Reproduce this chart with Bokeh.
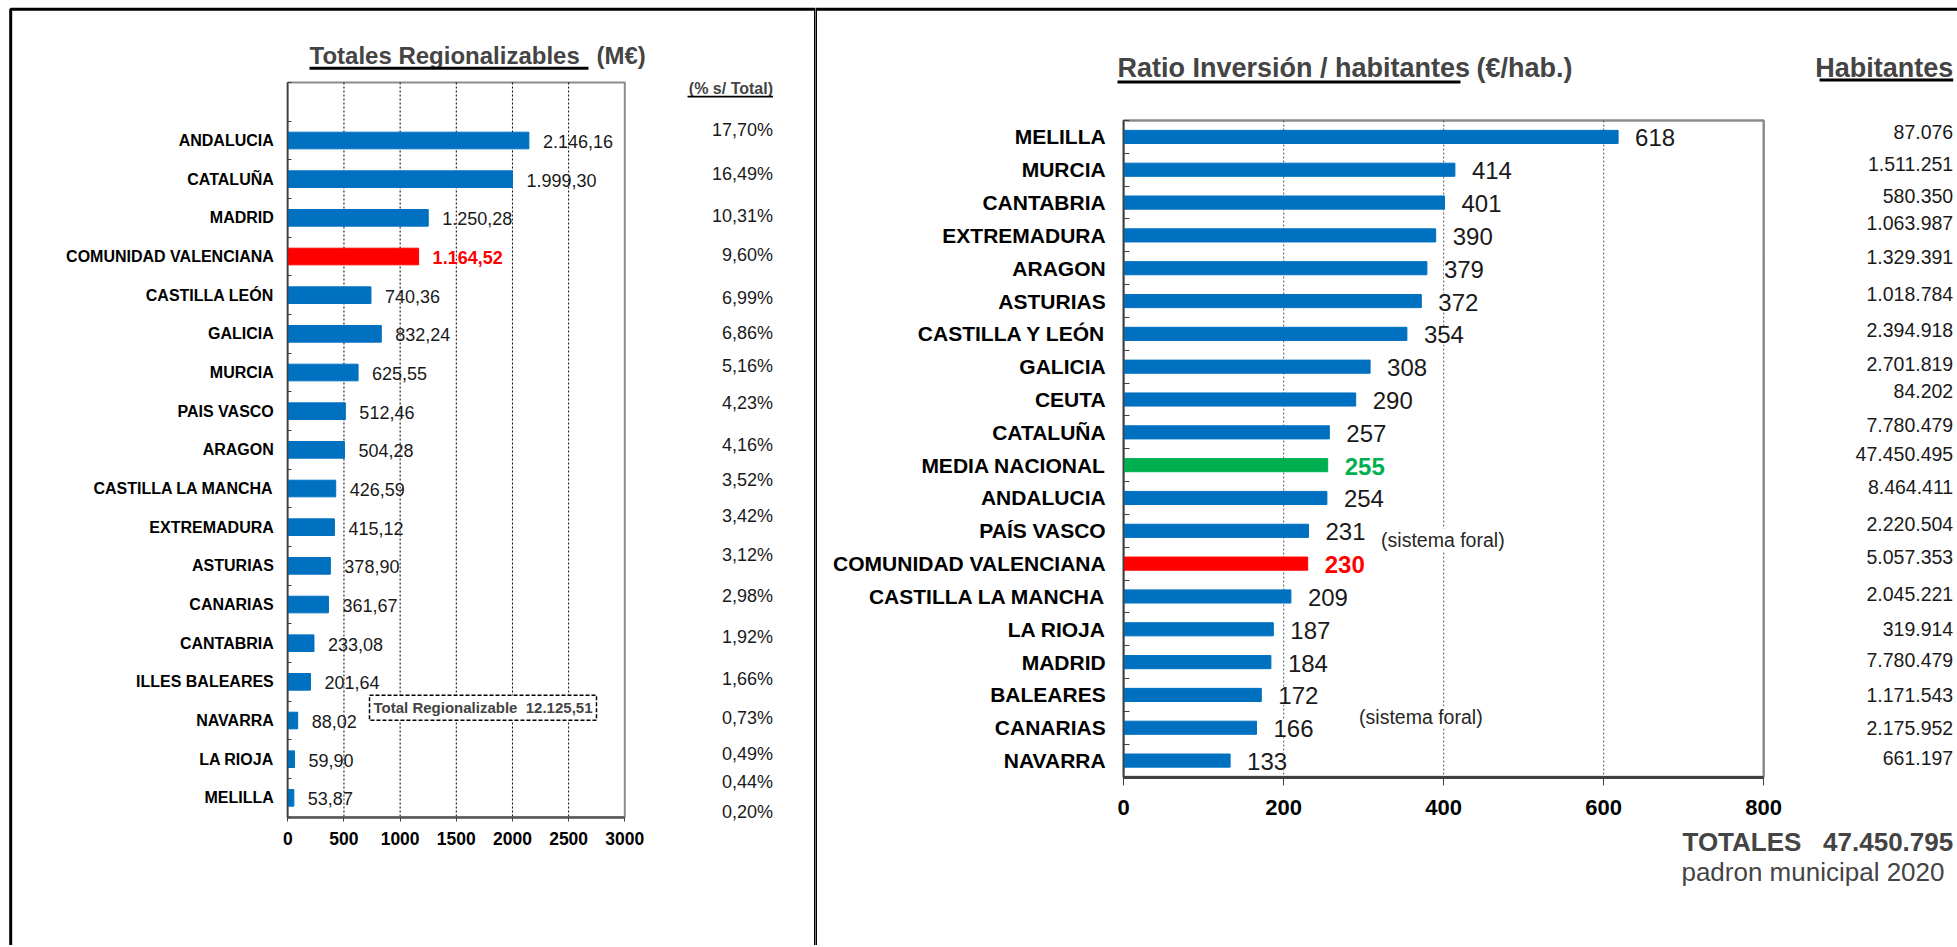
from bokeh.plotting import figure
from bokeh.models import (Range1d, FixedTicker, LabelSet, Label, BoxAnnotation,
                          ColumnDataSource)
from bokeh.layouts import row
from bokeh.embed import file_html
from bokeh.resources import INLINE
from bokeh.core.properties import value

# ------------------------------------------------------------------ data
left_regions = ["ANDALUCIA", "CATALUÑA", "MADRID", "COMUNIDAD VALENCIANA",
                "CASTILLA LEÓN", "GALICIA", "MURCIA", "PAIS VASCO", "ARAGON",
                "CASTILLA LA MANCHA", "EXTREMADURA", "ASTURIAS", "CANARIAS",
                "CANTABRIA", "ILLES BALEARES", "NAVARRA", "LA RIOJA", "MELILLA"]
left_values = [2146.16, 1999.30, 1250.28, 1164.52, 740.36, 832.24, 625.55,
               512.46, 504.28, 426.59, 415.12, 378.90, 361.67, 233.08, 201.64,
               88.02, 59.90, 53.87]
pct_values = [17.70, 16.49, 10.31, 9.60, 6.99, 6.86, 5.16, 4.23, 4.16, 3.52,
              3.42, 3.12, 2.98, 1.92, 1.66, 0.73, 0.49, 0.44, 0.20]
left_total = 12125.51
left_ticks = [0, 500, 1000, 1500, 2000, 2500, 3000]

right_regions = ["MELILLA", "MURCIA", "CANTABRIA", "EXTREMADURA", "ARAGON",
                 "ASTURIAS", "CASTILLA Y LEÓN", "GALICIA", "CEUTA", "CATALUÑA",
                 "MEDIA NACIONAL", "ANDALUCIA", "PAÍS VASCO",
                 "COMUNIDAD VALENCIANA", "CASTILLA LA MANCHA", "LA RIOJA",
                 "MADRID", "BALEARES", "CANARIAS", "NAVARRA"]
ratio_values = [618, 414, 401, 390, 379, 372, 354, 308, 290, 257, 255, 254,
                231, 230, 209, 187, 184, 172, 166, 133]
habitantes = [87076, 1511251, 580350, 1063987, 1329391, 1018784, 2394918,
              2701819, 84202, 7780479, 47450495, 8464411, 2220504, 5057353,
              2045221, 319914, 7780479, 1171543, 2175952, 661197]
hab_total = 47450795
right_ticks = [0, 200, 400, 600, 800]

# layout: row positions (in row units) of the side text columns
pct_rows = [0.74, 1.86, 2.94, 3.95, 5.08, 5.98, 6.84, 7.79, 8.87, 9.79, 10.72,
            11.71, 12.77, 13.83, 14.92, 15.94, 16.86, 17.58, 18.37]
hab_rows = [-0.14, 0.82, 1.79, 2.63, 3.67, 4.78, 5.88, 6.92, 7.75, 8.77, 9.66,
            10.68, 11.78, 12.79, 13.93, 15.0, 15.93, 17.0, 18.02, 18.91]


def es_num(v, dec=2):
    s = f"{v:,.{dec}f}"
    return s.replace(",", "X").replace(".", ",").replace("X", ".")


NB = "\u00a0"
BLUE, RED, GREEN = "#0070C0", "#FF0000", "#00B050"
FONT = "Liberation Sans"
H = 945

# ------------------------------------------------------------------ left panel
LW = 815
L_X0, L_X1, L_Y0, L_Y1 = 287.3, 624.3, 82.0, 816.7   # chart box in page pixels
nL = len(left_regions) + 1                            # first slot is empty
lx_max = left_ticks[-1]


def lx(sx):
    return (sx - L_X0) / (L_X1 - L_X0) * lx_max


def ly(sy):
    return (sy - L_Y0) / (L_Y1 - L_Y0) * nL - 0.5


pL = figure(width=LW, height=H, x_range=Range1d(lx(0), lx(LW)),
            y_range=Range1d(ly(H), ly(0)), output_backend="svg",
            toolbar_location=None, min_border=0)
pL.outline_line_color = None
pL.grid.visible = False

l_rows = list(range(1, len(left_regions) + 1))
l_top, l_bot = -0.5, nL - 0.5

# chart box and dashed grid lines
pL.quad(left=0, right=lx_max, top=l_top, bottom=l_bot, fill_color=None,
        line_color="#8c8c8c", line_width=2)
pL.segment(x0=left_ticks[1:-1], x1=left_ticks[1:-1], y0=l_top, y1=l_bot,
           line_color="black", line_dash="2 2", line_width=1)

l_hl = [r == "COMUNIDAD VALENCIANA" for r in left_regions]
srcL = ColumnDataSource(dict(
    y=l_rows, v=left_values,
    col=[RED if h else BLUE for h in l_hl],
    lbl=[es_num(v) for v in left_values],
    tcol=[RED if h else "#1a1a1a" for h in l_hl],
    tsty=["bold" if h else "normal" for h in l_hl]))
pL.hbar(y="y", right="v", left=0, height=0.43, fill_color="col",
        line_color="col", source=srcL)
pL.text(x="v", y="y", text="lbl", x_offset=14, y_offset=1,
        text_baseline="middle", text_font=value(FONT), text_font_size="18px",
        text_color="tcol", text_font_style="tsty", source=srcL)

xa = pL.xaxis[0]
xa.fixed_location = l_bot
xa.bounds = (0, lx_max)
xa.ticker = FixedTicker(ticks=left_ticks)
xa.major_label_text_font = FONT
xa.major_label_text_font_style = "bold"
xa.major_label_text_font_size = "17.5px"
xa.major_label_text_color = "black"
xa.major_tick_in = 0
xa.major_tick_out = 4
xa.minor_tick_line_color = None
xa.axis_line_color = "#595959"
xa.axis_line_width = 2.5
xa.major_tick_line_color = "#404040"
xa.major_label_standoff = 11

ya = pL.yaxis[0]
ya.fixed_location = 0
ya.bounds = (l_top, l_bot)
ya.ticker = FixedTicker(ticks=l_rows, minor_ticks=[i - 0.5 for i in range(nL + 1)])
ya.major_label_overrides = {r: n for r, n in zip(l_rows, left_regions)}
ya.major_label_text_font = FONT
ya.major_label_text_font_style = "bold"
ya.major_label_text_font_size = "16px"
ya.major_label_text_color = "black"
ya.major_tick_in = 0
ya.major_tick_out = 0
ya.minor_tick_in = 4
ya.minor_tick_out = 0
ya.minor_tick_line_color = "#404040"
ya.axis_line_color = "#404040"
ya.axis_line_width = 1.5
ya.major_label_standoff = 14

# panel border
pL.add_layout(BoxAnnotation(left=lx(10.2), right=lx(815), top=ly(8.7),
                            bottom=ly(3000), fill_alpha=0, line_color="black",
                            line_width=3, line_alpha=1))

# titles (cap-centre positions, underlines as thin boxes)
pL.add_layout(Label(x=lx(309), y=ly(55), text="Totales Regionalizables",
                    text_font=FONT, text_font_style="bold",
                    text_font_size="24px", text_baseline="middle"))
pL.add_layout(Label(x=lx(596), y=ly(55), text="(M€)", text_font=FONT,
                    text_font_style="bold", text_font_size="24px",
                    text_baseline="middle"))
pL.add_layout(BoxAnnotation(left=lx(309), right=lx(588), top=ly(66.3),
                            bottom=ly(69.3), fill_color="black", fill_alpha=1,
                            line_color=None))
pL.add_layout(Label(x=lx(772.5), y=ly(88), text="(% s/ Total)", text_font=FONT,
                    text_font_style="bold", text_font_size="16px",
                    text_align="right", text_baseline="middle"))
pL.add_layout(BoxAnnotation(left=lx(687), right=lx(772.5), top=ly(95.2),
                            bottom=ly(97), fill_color="black", fill_alpha=1,
                            line_color=None))

srcP = ColumnDataSource(dict(y=pct_rows, t=[es_num(v) + "%" for v in pct_values],
                             x=[lx(772.5)] * len(pct_rows)))
pL.add_layout(LabelSet(x="x", y="y", text="t", source=srcP,
                       text_font=value(FONT), text_font_size="18px",
                       text_align="right", text_baseline="middle",
                       text_color="#1a1a1a"))

pL.add_layout(Label(x=lx(482.5), y=ly(707.2),
                    text="Total Regionalizable" + NB * 2 + es_num(left_total),
                    text_font=FONT, text_font_style="bold",
                    text_font_size="15px", text_align="center",
                    text_baseline="middle", background_fill_color="white",
                    border_line_color="black", border_line_dash="4 2",
                    border_line_width=1.5, padding=4))

# ------------------------------------------------------------------ right panel
RW = 1957 - LW
R_OFF = LW
R_X0, R_X1, R_Y0, R_Y1 = 1123.2, 1763.2, 120.0, 776.5
nR = len(right_regions)
rx_max = right_ticks[-1]


def rx(sx):
    return (sx - R_X0) / (R_X1 - R_X0) * rx_max


def ry(sy):
    return (sy - R_Y0) / (R_Y1 - R_Y0) * nR - 0.5


pR = figure(width=RW, height=H, x_range=Range1d(rx(R_OFF), rx(R_OFF + RW)),
            y_range=Range1d(ry(H), ry(0)), output_backend="svg",
            toolbar_location=None, min_border=0)
pR.outline_line_color = None
pR.grid.visible = False

r_rows = list(range(nR))
r_top, r_bot = -0.5, nR - 0.5

pR.quad(left=0, right=rx_max, top=r_top, bottom=r_bot, fill_color=None,
        line_color="#8c8c8c", line_width=2.5)
pR.segment(x0=right_ticks[1:-1], x1=right_ticks[1:-1], y0=r_top, y1=r_bot,
           line_color="#555555", line_dash="2 2", line_width=1)

r_kind = ["red" if r == "COMUNIDAD VALENCIANA" else
          ("green" if r == "MEDIA NACIONAL" else "blue") for r in right_regions]
cmap = {"red": RED, "green": GREEN, "blue": BLUE}
srcR = ColumnDataSource(dict(
    y=r_rows, v=ratio_values,
    col=[cmap[k] for k in r_kind],
    lbl=[str(v) for v in ratio_values],
    tcol=[cmap[k] if k != "blue" else "#1a1a1a" for k in r_kind],
    tsty=["bold" if k != "blue" else "normal" for k in r_kind]))
pR.hbar(y="y", right="v", left=0, height=0.4, fill_color="col",
        line_color="col", source=srcR)

xb = pR.xaxis[0]
xb.fixed_location = r_bot
xb.bounds = (0, rx_max)
xb.ticker = FixedTicker(ticks=right_ticks)
xb.major_label_text_font = FONT
xb.major_label_text_font_style = "bold"
xb.major_label_text_font_size = "22px"
xb.major_label_text_color = "black"
xb.major_tick_in = 0
xb.major_tick_out = 8
xb.minor_tick_line_color = None
xb.axis_line_color = "#404040"
xb.axis_line_width = 3
xb.major_tick_line_color = "#404040"
xb.major_label_standoff = 15

yb = pR.yaxis[0]
yb.fixed_location = 0
yb.bounds = (r_top, r_bot)
yb.ticker = FixedTicker(ticks=r_rows, minor_ticks=[i - 0.5 for i in range(nR + 1)])
yb.major_label_overrides = {r: n for r, n in zip(r_rows, right_regions)}
yb.major_label_text_font = FONT
yb.major_label_text_font_style = "bold"
yb.major_label_text_font_size = "21px"
yb.major_label_text_color = "black"
yb.major_tick_in = 0
yb.major_tick_out = 0
yb.minor_tick_in = 6
yb.minor_tick_out = 0
yb.minor_tick_line_color = "#404040"
yb.axis_line_color = "#404040"
yb.axis_line_width = 1.5
yb.major_label_standoff = 18

pR.add_layout(LabelSet(x="v", y="y", text="lbl", source=srcR, x_offset=17,
                       y_offset=-1, text_font=value(FONT),
                       text_font_size="24px", text_baseline="middle",
                       text_color="tcol", text_font_style="tsty",
                       background_fill_color="white"))

for xs, ys in [(1380.6, 539.3), (1358.6, 716.7)]:
    pR.add_layout(Label(x=rx(xs), y=ry(ys), text="(sistema foral)",
                        text_font=FONT, text_font_size="19.5px",
                        text_baseline="middle", text_color="#262626",
                        background_fill_color="white"))

# panel border
pR.add_layout(BoxAnnotation(left=rx(815), right=rx(3000), top=ry(8.7),
                            bottom=ry(3000), fill_alpha=0, line_color="black",
                            line_width=3, line_alpha=1))

# titles
pR.add_layout(Label(x=rx(1117), y=ry(67), text="Ratio Inversión / habitantes",
                    text_font=FONT, text_font_style="bold",
                    text_font_size="27px", text_baseline="middle"))
pR.add_layout(BoxAnnotation(left=rx(1117), right=rx(1460), top=ry(80),
                            bottom=ry(83), fill_color="black", fill_alpha=1,
                            line_color=None))
pR.add_layout(Label(x=rx(1476), y=ry(67), text="(€/hab.)", text_font=FONT,
                    text_font_style="bold", text_font_size="27px",
                    text_baseline="middle"))
pR.add_layout(Label(x=rx(1952.7), y=ry(67), text="Habitantes", text_font=FONT,
                    text_font_style="bold", text_font_size="27px",
                    text_align="right", text_baseline="middle"))
pR.add_layout(BoxAnnotation(left=rx(1819), right=rx(1952.7), top=ry(78),
                            bottom=ry(81), fill_color="black", fill_alpha=1,
                            line_color=None))

srcH = ColumnDataSource(dict(y=hab_rows, t=[es_num(v, 0) for v in habitantes],
                             x=[rx(1952.7)] * len(hab_rows)))
pR.add_layout(LabelSet(x="x", y="y", text="t", source=srcH,
                       text_font=value(FONT), text_font_size="19.5px",
                       text_align="right", text_baseline="middle",
                       text_color="#1a1a1a"))

pR.add_layout(Label(x=rx(1952.7), y=ry(841),
                    text="TOTALES" + NB * 3 + es_num(hab_total, 0),
                    text_font=FONT, text_font_style="bold",
                    text_font_size="26px", text_align="right",
                    text_baseline="middle"))
pR.add_layout(Label(x=rx(1944), y=ry(871), text="padron municipal 2020",
                    text_font=FONT, text_font_size="26px", text_align="right",
                    text_baseline="middle"))

layout = row(pL, pR)
open("out.html", "w").write(file_html(layout, INLINE))
